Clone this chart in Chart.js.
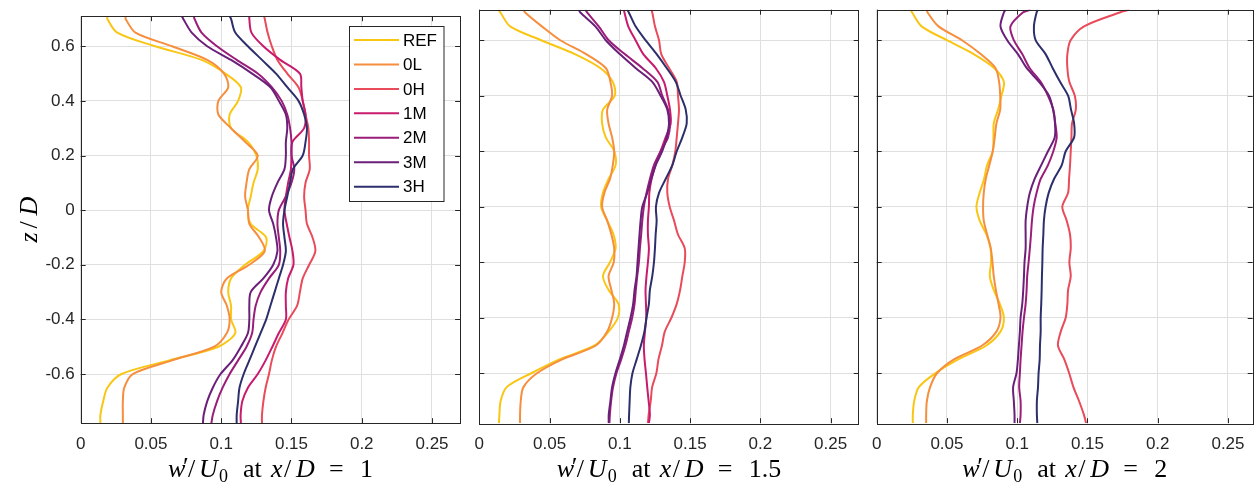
<!DOCTYPE html>
<html>
<head>
<meta charset="utf-8">
<script src="https://cdn.jsdelivr.net/npm/chart.js@4.4.1/dist/chart.umd.min.js"></script>
<style>
  html, body { margin: 0; padding: 0; background: #fff; }
  #wrap { position: relative; width: 1256px; height: 488px; overflow: hidden; }
  #wrap canvas { position: absolute; left: 0; top: 0; }
</style>
</head>
<body>
<div id="wrap">
  <canvas id="p1" width="1256" height="488"></canvas>
  <canvas id="p2" width="1256" height="488"></canvas>
  <canvas id="p3" width="1256" height="488"></canvas>
</div>
<script>
// heights z/D at which every profile is sampled
const zD = [0.71, 0.70, 0.65, 0.60, 0.55, 0.50, 0.45, 0.40, 0.35, 0.30, 0.25, 0.20, 0.15, 0.10, 0.05, 0,
  -0.05, -0.10, -0.15, -0.20, -0.25, -0.30, -0.35, -0.40, -0.45, -0.50, -0.55, -0.60, -0.65, -0.70, -0.75, -0.78];

const xTicks = [0, 0.05, 0.1, 0.15, 0.2, 0.25];
const zTicks = [-0.6, -0.4, -0.2, 0, 0.2, 0.4, 0.6];

const caseNames = ['REF', '0L', '0H', '1M', '2M', '3M', '3H'];
const caseColors = ['#f9c614', '#f68e3e', '#e94b5b', '#c81b6d', '#9b1d7a', '#6a2079', '#2c2f6b'];

// w'/U0 at x/D = 1
const w_REF_1 = [0.019, 0.019, 0.026, 0.053, 0.086, 0.103, 0.114, 0.112, 0.106, 0.107, 0.119, 0.125, 0.126, 0.123, 0.121, 0.119, 0.121, 0.132, 0.130, 0.117, 0.107, 0.105, 0.107, 0.107, 0.110, 0.098, 0.063, 0.029, 0.019, 0.016, 0.014, 0.014];
const w_0L_1 = [0.032, 0.032, 0.039, 0.065, 0.090, 0.102, 0.105, 0.098, 0.098, 0.107, 0.117, 0.126, 0.120, 0.118, 0.117, 0.119, 0.120, 0.127, 0.131, 0.120, 0.104, 0.100, 0.104, 0.106, 0.104, 0.095, 0.065, 0.037, 0.031, 0.030, 0.030, 0.030];
const w_0H_1 = [0.1305, 0.131, 0.133, 0.136, 0.140, 0.147, 0.155, 0.158, 0.160, 0.162, 0.1625, 0.1625, 0.163, 0.160, 0.159, 0.160, 0.161, 0.165, 0.167, 0.1626, 0.158, 0.156, 0.154, 0.148, 0.1436, 0.139, 0.136, 0.134, 0.1316, 0.130, 0.129, 0.129];
const w_1M_1 = [0.120, 0.120, 0.1215, 0.130, 0.142, 0.156, 0.157, 0.158, 0.160, 0.159, 0.1507, 0.150, 0.1496, 0.1476, 0.146, 0.145, 0.1466, 0.1486, 0.1507, 0.1514, 0.1476, 0.146, 0.146, 0.146, 0.141, 0.1364, 0.1316, 0.126, 0.119, 0.115, 0.1138, 0.114];
const w_2M_1 = [0.0805, 0.081, 0.086, 0.097, 0.111, 0.126, 0.136, 0.143, 0.147, 0.149, 0.150, 0.150, 0.152, 0.150, 0.146, 0.141, 0.140, 0.141, 0.142, 0.141, 0.134, 0.128, 0.1245, 0.123, 0.122, 0.118, 0.112, 0.106, 0.101, 0.097, 0.094, 0.093];
const w_3M_1 = [0.072, 0.073, 0.079, 0.090, 0.107, 0.122, 0.135, 0.141, 0.146, 0.147, 0.146, 0.146, 0.145, 0.140, 0.136, 0.134, 0.137, 0.139, 0.140, 0.137, 0.130, 0.121, 0.120, 0.120, 0.119, 0.114, 0.108, 0.0995, 0.094, 0.090, 0.0875, 0.087];
const w_3H_1 = [0.106, 0.107, 0.110, 0.119, 0.129, 0.139, 0.147, 0.155, 0.159, 0.161, 0.160, 0.158, 0.151, 0.149, 0.147, 0.145, 0.144, 0.145, 0.146, 0.144, 0.141, 0.138, 0.135, 0.132, 0.128, 0.124, 0.120, 0.116, 0.113, 0.112, 0.111, 0.111];

// w'/U0 at x/D = 1.5
const w_REF_2 = [0.0136, 0.015, 0.022, 0.044, 0.068, 0.086, 0.095, 0.0964, 0.088, 0.0874, 0.090, 0.096, 0.097, 0.092, 0.088, 0.0867, 0.091, 0.0955, 0.097, 0.093, 0.088, 0.092, 0.099, 0.0986, 0.092, 0.082, 0.057, 0.037, 0.0195, 0.0152, 0.0143, 0.014];
const w_0L_2 = [0.0314, 0.0326, 0.0445, 0.0576, 0.076, 0.090, 0.0933, 0.0945, 0.091, 0.092, 0.0945, 0.096, 0.095, 0.093, 0.089, 0.0874, 0.091, 0.094, 0.096, 0.0957, 0.092, 0.094, 0.096, 0.0945, 0.091, 0.083, 0.059, 0.041, 0.0314, 0.0295, 0.029, 0.029];
const w_0H_2 = [0.1224, 0.1231, 0.125, 0.1279, 0.1295, 0.135, 0.1405, 0.1414, 0.1421, 0.1414, 0.1405, 0.1395, 0.1374, 0.1343, 0.1338, 0.1355, 0.1386, 0.1414, 0.1462, 0.1462, 0.1445, 0.1429, 0.1405, 0.1367, 0.1320, 0.1300, 0.1275, 0.126, 0.123, 0.122, 0.1205, 0.120];
const w_1M_2 = [0.1029, 0.1033, 0.106, 0.1112, 0.1167, 0.1255, 0.1314, 0.1338, 0.1357, 0.1362, 0.1326, 0.129, 0.1255, 0.1226, 0.121, 0.1207, 0.120, 0.120, 0.1207, 0.120, 0.119, 0.1183, 0.1186, 0.1188, 0.1179, 0.1171, 0.1176, 0.1186, 0.1195, 0.1205, 0.1214, 0.1207];
const w_2M_2 = [0.0755, 0.0767, 0.085, 0.0921, 0.1035, 0.116, 0.1267, 0.1302, 0.1343, 0.1357, 0.1343, 0.129, 0.1243, 0.1214, 0.119, 0.1171, 0.116, 0.1152, 0.1143, 0.1136, 0.1124, 0.1114, 0.1105, 0.1088, 0.1064, 0.104, 0.101, 0.0976, 0.0952, 0.0938, 0.0929, 0.0926];
const w_3M_2 = [0.0707, 0.0719, 0.0826, 0.090, 0.100, 0.1112, 0.1231, 0.129, 0.1338, 0.135, 0.1333, 0.1302, 0.1255, 0.1224, 0.1195, 0.116, 0.1148, 0.114, 0.1133, 0.1126, 0.1119, 0.1105, 0.1095, 0.1076, 0.1052, 0.1029, 0.100, 0.0969, 0.0945, 0.0933, 0.0921, 0.0921];
const w_3H_2 = [0.1052, 0.1064, 0.1112, 0.1183, 0.1262, 0.1333, 0.1398, 0.1433, 0.1469, 0.1476, 0.1445, 0.1405, 0.1374, 0.1326, 0.1279, 0.1257, 0.1262, 0.1255, 0.125, 0.1243, 0.1231, 0.1214, 0.1207, 0.119, 0.1175, 0.115, 0.112, 0.109, 0.1075, 0.107, 0.1066, 0.1064];

// w'/U0 at x/D = 2 (no 1M profile here)
const w_REF_3 = [0.0243, 0.0252, 0.032, 0.050, 0.069, 0.0835, 0.0905, 0.0888, 0.0864, 0.0833, 0.0831, 0.0826, 0.0786, 0.0764, 0.0733, 0.071, 0.0733, 0.0781, 0.081, 0.0814, 0.0805, 0.0833, 0.0876, 0.0905, 0.0881, 0.078, 0.058, 0.0417, 0.030, 0.0267, 0.0257, 0.0257];
const w_0L_3 = [0.0357, 0.0362, 0.044, 0.0607, 0.074, 0.0845, 0.0871, 0.0879, 0.0879, 0.0852, 0.084, 0.0826, 0.0802, 0.0776, 0.0762, 0.0757, 0.0762, 0.0786, 0.0812, 0.0824, 0.0833, 0.0848, 0.0867, 0.0881, 0.0852, 0.075, 0.055, 0.0429, 0.038, 0.0357, 0.0352, 0.0352];
const w_0H_3 = [0.1798, 0.173, 0.1476, 0.138, 0.1357, 0.1357, 0.1371, 0.141, 0.1417, 0.139, 0.1386, 0.1381, 0.1376, 0.1369, 0.1362, 0.1321, 0.1352, 0.1376, 0.1381, 0.1371, 0.1381, 0.1362, 0.1357, 0.1345, 0.131, 0.129, 0.1335, 0.137, 0.140, 0.144, 0.1475, 0.149];
const w_2M_3 = [0.1095, 0.104, 0.0952, 0.0976, 0.1036, 0.1088, 0.1167, 0.1219, 0.1257, 0.1271, 0.1281, 0.1257, 0.1219, 0.1167, 0.1138, 0.1117, 0.1105, 0.1098, 0.109, 0.1081, 0.1071, 0.1067, 0.106, 0.1048, 0.1038, 0.1031, 0.1024, 0.1019, 0.1014, 0.1024, 0.1024, 0.1019];
const w_3M_3 = [0.0917, 0.0905, 0.0881, 0.0929, 0.1005, 0.1067, 0.1155, 0.1226, 0.1255, 0.1269, 0.1267, 0.1219, 0.1171, 0.1124, 0.109, 0.1071, 0.106, 0.106, 0.106, 0.1052, 0.1048, 0.1043, 0.1036, 0.1024, 0.1019, 0.1012, 0.1005, 0.0995, 0.0971, 0.0976, 0.0981, 0.0981];
const w_3H_3 = [0.1148, 0.1138, 0.1119, 0.1131, 0.1202, 0.1252, 0.1305, 0.1362, 0.1383, 0.1405, 0.1405, 0.1345, 0.1317, 0.1262, 0.1224, 0.1202, 0.119, 0.1186, 0.1181, 0.1179, 0.1176, 0.1174, 0.1171, 0.1167, 0.1167, 0.1162, 0.116, 0.1152, 0.1148, 0.114, 0.114, 0.1143];

const AXIS_INK = '#262626';
const GRID_INK = '#dfdfdf';
const SANS = '"Liberation Sans", Arial, sans-serif';
const SERIF = '"Liberation Serif", "DejaVu Serif", serif';

const panels = [
  { id: 'p1', left: 80.7, right: 460.1, xMax: 0.27, station: '1', showZ: true,
    profiles: [w_REF_1, w_0L_1, w_0H_1, w_1M_1, w_2M_1, w_3M_1, w_3H_1] },
  { id: 'p2', left: 479.3, right: 858.7, xMax: 0.27, station: '1.5', showZ: false,
    profiles: [w_REF_2, w_0L_2, w_0H_2, w_1M_2, w_2M_2, w_3M_2, w_3H_2] },
  { id: 'p3', left: 876.7, right: 1252.7, xMax: 0.2676, station: '2', showZ: false,
    profiles: [w_REF_3, w_0L_3, w_0H_3, null, w_2M_3, w_3M_3, w_3H_3] }
];

const IT = 'italic 26px ' + SERIF;
const RM = '26px ' + SERIF;
const SUB = '18px ' + SERIF;

// TeX-like label: each glyph group sits at its own advance, the last one
// (a number of variable length) is measured
function drawTex(ctx, runs, cx, base) {
  const last = runs[runs.length - 1];
  ctx.font = last[1];
  const total = last[3] + ctx.measureText(last[0]).width;
  const x0 = cx - total / 2;
  runs.forEach(r => {
    ctx.font = r[1];
    ctx.fillText(r[0], x0 + r[3], base + r[2]);
  });
}

function xTitle(station) {
  return [['w', IT, 0, 0], ['\u2032', RM, -2, 15], ['/', RM, 0, 20], ['U', IT, 0, 31],
    ['0', SUB, 5, 51], ['at', RM, 0, 75], ['x', IT, 0, 103], ['/', RM, 0, 116],
    ['D', IT, 0, 128], ['=', RM, 0, 161], [station, RM, 0, 192]];
}

// box, inward ticks, axis titles and legend
const framePlugin = {
  id: 'frame',
  afterDraw(chart, args, opts) {
    const { ctx, chartArea: a } = chart;
    const x = chart.scales.x, y = chart.scales.y;
    ctx.save();
    ctx.strokeStyle = AXIS_INK;
    ctx.lineWidth = 1;
    ctx.beginPath();
    xTicks.forEach(v => {
      const px = Math.round(x.getPixelForValue(v)) + 0.5;
      ctx.moveTo(px, a.bottom); ctx.lineTo(px, a.bottom - 5);
      ctx.moveTo(px, a.top); ctx.lineTo(px, a.top + 5);
    });
    zTicks.forEach(v => {
      const py = Math.round(y.getPixelForValue(v)) + 0.5;
      ctx.moveTo(a.left, py); ctx.lineTo(a.left + 5, py);
      ctx.moveTo(a.right, py); ctx.lineTo(a.right - 5, py);
    });
    ctx.stroke();
    ctx.strokeRect(Math.round(a.left) + 0.5, Math.round(a.top) + 0.5,
      Math.round(a.right - a.left), Math.round(a.bottom - a.top));

    ctx.fillStyle = '#000';
    ctx.textAlign = 'left';
    ctx.textBaseline = 'alphabetic';
    drawTex(ctx, xTitle(opts.station), (a.left + a.right) / 2, 477);

    if (opts.showZ) {
      ctx.save();
      ctx.translate(37, (a.top + a.bottom) / 2);
      ctx.rotate(-Math.PI / 2);
      drawTex(ctx, [['z', IT, 0, 0], ['/', RM, 0, 14], ['D', IT, 0, 27]], 0, 0);
      ctx.restore();

      // legend
      const lx = 349.5, ly = 26.5, lw = 94.5, lh = 175;
      ctx.fillStyle = '#fff';
      ctx.fillRect(lx, ly, lw, lh);
      ctx.strokeStyle = AXIS_INK;
      ctx.strokeRect(lx, ly, lw, lh);
      ctx.font = '17px ' + SANS;
      ctx.textBaseline = 'middle';
      chart.data.datasets.slice().reverse().forEach((ds, i) => {
        const ry = 40 + i * 24.45;
        ctx.strokeStyle = ds.borderColor;
        ctx.lineWidth = 2;
        ctx.beginPath();
        ctx.moveTo(354, ry); ctx.lineTo(399, ry);
        ctx.stroke();
        ctx.fillStyle = '#000';
        ctx.fillText(ds.label, 403, ry + 1);
      });
    }
    ctx.restore();
  }
};

panels.forEach(p => {
  const datasets = [];
  p.profiles.forEach((w, k) => {
    if (!w) return;
    datasets.push({
      label: caseNames[k],
      data: zD.map((z, j) => ({ x: w[j], y: z })),
      borderColor: caseColors[k],
      borderWidth: 2,
      pointRadius: 0,
      showLine: true,
      fill: false,
      tension: 0.3
    });
  });
  // later cases are painted over earlier ones
  datasets.reverse();

  const yW = p.showZ ? 60 : 0;
  new Chart(document.getElementById(p.id), {
    type: 'scatter',
    data: { datasets },
    plugins: [framePlugin],
    options: {
      responsive: false,
      animation: false,
      devicePixelRatio: 1,
      layout: { padding: { left: p.left - yW, right: 1256 - p.right, top: 9.7, bottom: 0 } },
      plugins: {
        legend: { display: false },
        tooltip: { enabled: false },
        frame: { station: p.station, showZ: p.showZ }
      },
      scales: {
        x: {
          type: 'linear', min: 0, max: p.xMax,
          afterBuildTicks: s => { s.ticks = xTicks.map(v => ({ value: v })); },
          afterFit: s => { s.height = 64.8; },
          grid: { color: GRID_INK, drawTicks: false },
          border: { display: false },
          ticks: { padding: 11, color: AXIS_INK, font: { family: SANS, size: 17 }, callback: v => String(v), maxRotation: 0 }
        },
        y: {
          type: 'linear', min: -0.78, max: 0.71,
          afterBuildTicks: s => { s.ticks = zTicks.map(v => ({ value: v })); },
          afterFit: s => { s.width = yW; },
          grid: { color: GRID_INK, drawTicks: false },
          border: { display: false },
          ticks: { display: p.showZ, padding: 6, color: AXIS_INK, font: { family: SANS, size: 17 }, callback: v => String(v) }
        }
      }
    }
  });
});
</script>
</body>
</html>
